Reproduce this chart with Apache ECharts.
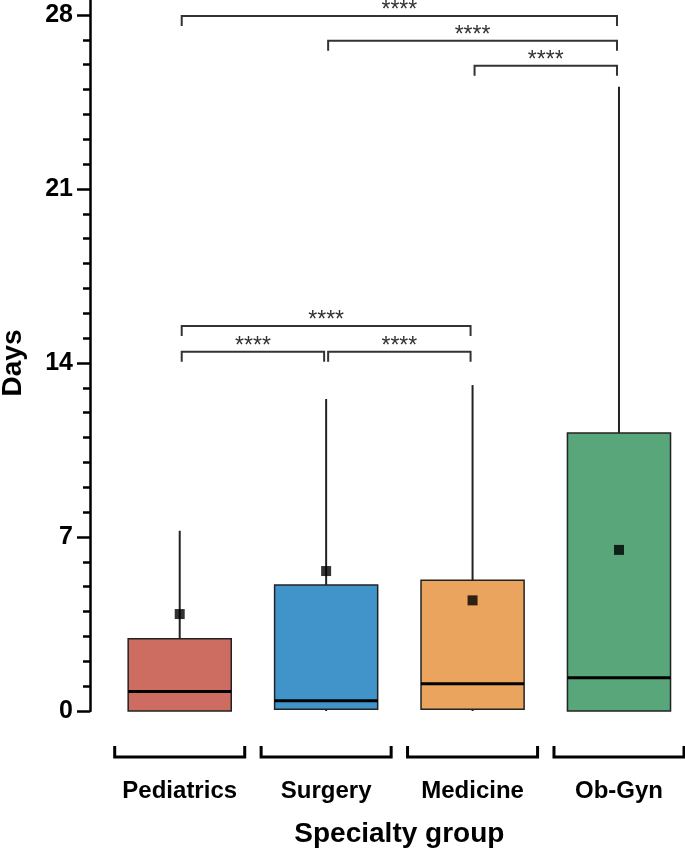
<!DOCTYPE html>
<html>
<head>
<meta charset="utf-8">
<script src="https://cdn.jsdelivr.net/npm/echarts@6/dist/echarts.min.js"></script>
<style>html,body{margin:0;padding:0;background:#fff}#c{width:685px;height:850px}</style>
</head>
<body>
<div id="c"></div>
<script>
// ---- data ----
var categories = ['Pediatrics', 'Surgery', 'Medicine', 'Ob-Gyn'];
var whiskerLow = [0, 0, 0, 0];
var q1 = [0, 0.07, 0.07, 0];
var medians = [0.78, 0.41, 1.1, 1.34];
var q3 = [2.91, 5.07, 5.26, 11.18];
var whiskerHigh = [7.25, 12.55, 13.11, 25.11];
var means = [3.9, 5.63, 4.45, 6.48];
var colors = ['#CD6C60', '#4094CA', '#EAA45D', '#58A67A'];

var sigFrom = [0, 1, 2, 0, 0, 1];
var sigTo = [3, 3, 3, 2, 1, 2];
var sigHeight = [27.96, 26.96, 25.96, 15.49, 14.45, 14.45];
var sigLabels = ['****', '****', '****', '****', '****', '****'];

var yMajorTicks = [0, 7, 14, 21, 28];
var yMinorTicks = [0,1,2,3,4,5,6,7,8,9,10,11,12,13,14,15,16,17,18,19,20,21,22,23,24,25,26,27,28];

// ---- build ----
var boxData = categories.map(function (c, i) {
  return [i, whiskerLow[i], q1[i], medians[i], q3[i], whiskerHigh[i]];
});
var meanData = categories.map(function (c, i) { return [i, means[i]]; });
var sigData = sigFrom.map(function (f, i) { return [f, sigTo[i], sigHeight[i]]; });
var groupData = categories.map(function (c, i) { return [i, 0]; });

var FONT = 'Arial, "Liberation Sans", sans-serif';
var chart = echarts.init(document.getElementById('c'), null, {renderer: 'canvas'});

chart.setOption({
  animation: false,
  backgroundColor: '#fff',
  grid: {left: 106.5, right: -7.2, top: 0, bottom: 139, outerBoundsMode: 'none', containLabel: false},
  xAxis: [{
    type: 'category',
    data: categories,
    axisLine: {show: false},
    axisTick: {show: false},
    splitLine: {show: false},
    axisLabel: {interval: 0, hideOverlap: false, fontSize: 24, fontWeight: 'bold', color: '#000', fontFamily: FONT, margin: 68},
    name: 'Specialty group',
    nameLocation: 'middle',
    nameGap: 109,
    nameTextStyle: {fontSize: 28, fontWeight: 'bold', color: '#000', fontFamily: FONT}
  }],
  yAxis: [{
    type: 'value',
    min: 0, max: 28.6, interval: 7,
    offset: 16.5,
    name: 'Days',
    nameLocation: 'middle',
    nameGap: 63,
    nameTextStyle: {fontSize: 28, fontWeight: 'bold', color: '#000', fontFamily: FONT, padding: [0, 15, 0, 0]},
    axisLine: {show: true, lineStyle: {color: '#000', width: 2.5}},
    axisTick: {show: true, length: 7, customValues: yMinorTicks, lineStyle: {color: '#000', width: 2.5}},
    axisLabel: {customValues: yMajorTicks, fontSize: 25, fontWeight: 'bold', color: '#000', fontFamily: FONT, margin: 17},
    splitLine: {show: false}
  }, {
    type: 'value',
    min: 0, max: 28.6, interval: 7,
    offset: 16.5,
    position: 'left',
    axisLine: {show: false},
    axisTick: {show: true, length: 13, customValues: yMajorTicks, lineStyle: {color: '#000', width: 2.5}},
    axisLabel: {show: false},
    splitLine: {show: false}
  }],
  series: [{
    type: 'custom',
    name: 'box',
    data: boxData,
    encode: {x: 0, y: [1, 2, 3, 4, 5]},
    z: 2,
    renderItem: function (params, api) {
      var i = api.value(0);
      var band = api.size([1, 0])[0];
      var hw = band * 0.352;
      var pLow = api.coord([i, api.value(1)]);
      var pQ1 = api.coord([i, api.value(2)]);
      var pMed = api.coord([i, api.value(3)]);
      var pQ3 = api.coord([i, api.value(4)]);
      var pHigh = api.coord([i, api.value(5)]);
      var x = pQ1[0];
      return {
        type: 'group',
        children: [
          {type: 'line', shape: {x1: x, y1: pHigh[1], x2: x, y2: pQ3[1]}, style: {stroke: '#222', lineWidth: 2}},
          {type: 'line', shape: {x1: x, y1: pQ1[1], x2: x, y2: pLow[1]}, style: {stroke: '#222', lineWidth: 2}},
          {type: 'rect', shape: {x: x - hw, y: pQ3[1], width: hw * 2, height: pQ1[1] - pQ3[1]},
            style: {fill: colors[i], stroke: '#222', lineWidth: 1.5}},
          {type: 'line', shape: {x1: x - hw, y1: pMed[1], x2: x + hw, y2: pMed[1]}, style: {stroke: '#000', lineWidth: 3}}
        ]
      };
    }
  }, {
    type: 'scatter',
    name: 'mean',
    data: meanData,
    symbol: 'rect',
    symbolSize: 10,
    itemStyle: {color: '#000'},
    z: 5
  }, {
    type: 'custom',
    name: 'sig',
    data: sigData,
    encode: {x: [0, 1], y: 2},
    z: 3,
    renderItem: function (params, api) {
      var a = api.coord([api.value(0), api.value(2)]);
      var b = api.coord([api.value(1), api.value(2)]);
      var x1 = a[0] + 2, x2 = b[0] - 2, y = a[1], leg = 10;
      return {
        type: 'group',
        children: [
          {type: 'polyline', shape: {points: [[x1, y + leg], [x1, y], [x2, y], [x2, y + leg]]},
            style: {stroke: '#333', lineWidth: 2, fill: null}},
          {type: 'text', style: {text: sigLabels[params.dataIndex], x: (x1 + x2) / 2, y: y - 5,
            align: 'center', verticalAlign: 'middle', fontSize: 23, fontFamily: FONT, fill: '#333'}}
        ]
      };
    }
  }, {
    type: 'custom',
    name: 'groups',
    data: groupData,
    encode: {x: 0, y: 1},
    clip: false,
    silent: true,
    renderItem: function (params, api) {
      var c = api.coord([api.value(0), api.value(1)]);
      var band = api.size([1, 0])[0];
      var hw = band * 0.444;
      var y = c[1] + 46;
      return {
        type: 'polyline',
        shape: {points: [[c[0] - hw, y - 11], [c[0] - hw, y], [c[0] + hw, y], [c[0] + hw, y - 11]]},
        style: {stroke: '#000', lineWidth: 3, fill: null}
      };
    }
  }]
});
</script>
</body>
</html>
